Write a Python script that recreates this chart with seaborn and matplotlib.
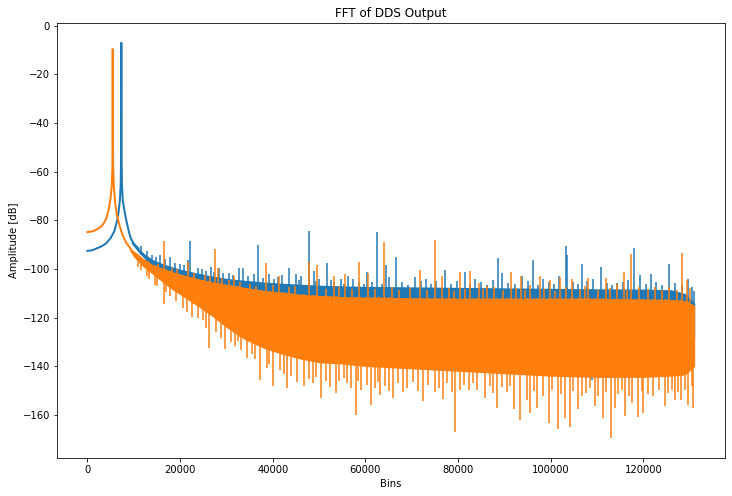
import numpy as np
import matplotlib
matplotlib.use("Agg")
import matplotlib.pyplot as plt
import seaborn as sns

# ----------------------------
# Values (bins, dB)
# ----------------------------
# carrier peaks with their leakage skirts
blue_peak_bins = [0, 1000, 2000, 3000, 4000, 5000, 5800, 6300, 6700, 7000, 7200, 7290, 7324,
                  7360, 7450, 7650, 8000, 8400, 9000, 9400, 10000, 11000]
blue_peak_db = [-92.5, -92.3, -91.5, -90.7, -89.5, -87.3, -84.5, -81, -77, -72, -65, -50, -7,
                -50, -65, -72, -76, -80, -85, -87.5, -89.5, -91.5]

orange_peak_bins = [0, 800, 1500, 2200, 3000, 3600, 4100, 4600, 5000, 5250, 5400, 5440, 5470,
                    5500, 5560, 5700, 6000, 6400, 7000, 7700, 8500, 9300]
orange_peak_db = [-84.8, -84.6, -84.2, -83.5, -82.5, -81, -79, -75.5, -71, -66, -58, -45, -9.6,
                  -45, -58, -66, -73, -78, -82.5, -86.5, -89.5, -91.5]

# noise floor bands (upper / lower edge of the dense trace)
blue_band_bins = [9500, 11000, 12500, 14000, 16000, 18000, 20000, 23000, 26000, 30000, 34000,
                  38000, 42000, 46000, 50000, 55000, 60000, 70000, 80000, 90000, 100000,
                  110000, 120000, 126000, 129000, 131071]
blue_band_top = [-88.5, -91.5, -94, -96, -97.6, -98.9, -100, -101.3, -102.5, -103.8, -104.6,
                 -105.3, -105.8, -106.2, -106.6, -106.9, -107.1, -107.3, -107.5, -107.7, -107.9,
                 -108.1, -108.2, -108.5, -110, -114]
blue_band_bottom = [-89.5, -93, -96, -99, -102, -105, -108, -112, -115, -118, -120, -122, -124,
                    -125, -126, -126, -126, -127, -127, -127, -128, -128, -128, -128, -128, -128]

orange_band_bins = [9000, 10000, 12000, 14000, 16000, 18000, 20000, 22000, 24000, 27000, 30000,
                    34000, 38000, 42000, 46000, 50000, 55000, 60000, 70000, 80000, 90000,
                    100000, 110000, 120000, 126000, 129000, 131071]
orange_band_top = [-91, -92.5, -95.5, -98, -99.5, -100.8, -102, -103, -104, -105.3, -106.3,
                   -107.5, -108.7, -109.5, -110.3, -110.8, -111.3, -111.5, -111.8, -112, -112,
                   -112, -112, -112.3, -112.5, -113, -115]
orange_band_bottom = [-92, -95, -99, -102, -105, -108, -110.5, -113, -115.5, -119.5, -124,
                      -129, -132.5, -135, -137, -138.5, -139, -140, -141, -142, -143, -144,
                      -144.5, -144.5, -144, -143.5, -140]

# spurs sticking out above the floor
blue_spur_bins = [11570, 15730, 17900, 21620, 22100, 23780, 26650, 28440, 30590, 32740, 33500,
                  35970, 36900, 39200, 42090, 43500, 44950, 46030, 47900, 48900, 50000, 51800,
                  52490, 54650, 56200, 57400, 60400, 62600, 64500, 65200, 66500, 70800, 73000,
                  77100, 81400, 83700, 88700, 89500, 93800, 96100, 98400, 101700, 103200,
                  103500, 106700, 109100, 110900, 114200, 117900, 119300, 121600, 125500,
                  129700, 130600]
blue_spur_db = [-90.7, -94.1, -95, -96.2, -88.4, -99.6, -99.2, -99.6, -101.4, -99.6, -99.6,
                -101.9, -90, -101.9, -102.3, -99.6, -101.9, -103, -84.5, -100.7, -104, -97.3,
                -104.4, -104.1, -103, -104, -101, -84.8, -98.2, -103.3, -95.2, -103.4, -104.1,
                -100.3, -101, -104.1, -95.5, -101.4, -102.8, -96.2, -104.1, -102.8, -90.4,
                -94.1, -97.9, -104.1, -99.3, -105.8, -91.4, -102.6, -101.9, -98, -104, -107.4]

# small teeth along the top of the blue floor
blue_tooth_bins = [12800, 13900, 14800, 16700, 18900, 19900, 20800, 24800, 25600, 27400, 29300,
                   31500, 34600, 37800, 40300, 41200, 45600, 49300, 53300, 55400, 58600, 59600,
                   61400, 63500, 67900, 69200, 71900, 74200, 75300, 78500, 79700, 82600, 85000,
                   86200, 87500, 90800, 92300, 95000, 97200, 99600, 100700, 104800, 105800,
                   107900, 112100, 113300, 115500, 116700, 120500, 122800, 124100, 126800,
                   128300, 131000]
blue_tooth_db = [-92.5, -94, -95, -96, -97.5, -98, -98.5, -100, -100.8, -101, -101.8, -102.5,
                 -103, -103.5, -104, -103.3, -104.5, -105, -105.5, -106, -105.2, -106.3, -105.5,
                 -106, -105.3, -106.4, -105, -106, -104.8, -106.2, -105, -106.1, -105.4, -106.5,
                 -104.6, -105.7, -106.3, -105, -106.5, -105.2, -106.2, -105.5, -106.3, -105,
                 -105.8, -106.5, -105.2, -104.3, -106, -105.3, -106.4, -105.7, -106.5, -109]

orange_spur_bins = [16450, 21700, 27500, 28230, 31670, 38500, 41360, 47800, 49600, 53200, 55700,
                    58700, 60600, 64100, 71700, 75100, 76550, 80350, 82600, 84440, 86250, 91500,
                    93570, 95570, 97720, 99880, 102030, 104700, 108130, 111900, 114380, 115800,
                    117300, 128400, 129330]
orange_spur_db = [-88.4, -97.1, -91.8, -99.6, -103, -97.5, -102.8, -97.1, -98.2, -103, -102,
                  -96.9, -101.4, -89, -100.3, -88, -103, -101, -100.7, -105.8, -106.9, -101,
                  -103, -106.4, -103, -104.4, -103.3, -104, -103.7, -103.5, -106.2, -101,
                  -93.7, -93.4, -104.4]

# small teeth along the top of the orange floor
orange_tooth_bins = [13000, 15200, 18200, 19300, 23000, 25300, 26400, 29000, 30600, 33000,
                     35200, 36400, 40000, 43500, 44800, 51500, 54200, 57200, 62000, 65800,
                     67200, 69700, 73400, 78000, 79200, 81600, 85300, 87700, 89600, 92600,
                     94400, 98600, 100900, 103300, 106400, 107300, 110200, 112800, 116500,
                     119000, 120900, 122400, 124000, 125600, 127300, 130100]
orange_tooth_db = [-96.5, -98, -99.5, -100, -101.6, -102.5, -103, -103.8, -104.6, -105.5, -106,
                   -106.8, -106.5, -107.5, -107, -108, -107.5, -108.3, -108, -107.2, -108.5,
                   -107.8, -108.6, -107.6, -108.8, -108, -108.3, -107.5, -108.7, -107.9, -108.5,
                   -108, -108.8, -107.4, -108.2, -107, -108.6, -107.8, -108.5, -107.5, -108.3,
                   -107.3, -108.4, -107.2, -108.5, -107.8]

# deep nulls below the floor
orange_dip_bins = [10850, 12800, 14500, 16450, 22480, 23780, 26290, 29660, 33100, 34550, 37200,
                   38700, 40070, 43170, 45320, 46750, 50490, 53570, 55360, 57900, 59100, 61250,
                   63260, 66000, 68150, 72460, 74960, 76770, 79400, 80500, 84100, 85880, 88400,
                   92100, 93300, 94860, 95600, 97100, 99700, 101500, 103100, 104200, 105800,
                   106800, 109600, 111200, 113000, 113900, 116000, 117500, 118900, 120000,
                   122100, 124600, 126800, 128200, 129700, 130700]
orange_dip_db = [-99, -103, -106.5, -114.3, -119.5, -120.2, -132.5, -132.9, -133.2, -136.6,
                 -145.5, -140.7, -148.2, -148.9, -146.2, -148.2, -153, -151, -144.8, -159.9,
                 -149.6, -155.8, -151.7, -153, -150.3, -154.4, -150.3, -153.4, -167, -149.6,
                 -149.6, -153, -156.9, -157.5, -162, -153.7, -159.2, -156.9, -163.3, -165.6,
                 -161.3, -164.7, -157.5, -152.3, -156.2, -161, -169.5, -157.1, -160.3, -155.1,
                 -160.7, -159, -152.3, -156.2, -153.7, -153.7, -155.8, -157.1]

# shallower notches along the bottom of the orange floor
orange_notch_bins = [11600, 13300, 15100, 17000, 17800, 19200, 20700, 21500, 24900, 25700,
                     27800, 28800, 30900, 31800, 32400, 35600, 36200, 39300, 41600, 42500,
                     44000, 47800, 48600, 49300, 51400, 52300, 54300, 56100, 56900, 58400,
                     60300, 62000, 62700, 64200, 65000, 67100, 69000, 70200, 71300, 73500,
                     75800, 77600, 78600, 81300, 82400, 83300, 86900, 87600, 89500, 90600,
                     91300, 96300, 98300, 100300, 102300, 104900, 107700, 108500, 110300,
                     112000, 114600, 115300, 117000, 119600, 121000, 123300, 125400, 126100,
                     127500, 129000, 130400]
orange_notch_db = [-100.5, -104, -107, -109.5, -111, -113, -116, -117.5, -121, -124, -126,
                   -128.5, -130, -131.5, -129.5, -135, -137, -139, -141.5, -143, -144, -145,
                   -147, -144.5, -146, -148.5, -146, -147, -149, -146, -147.5, -149, -146.5,
                   -148, -150, -147, -149, -146.5, -150, -147.5, -149, -147, -150.5, -147.5,
                   -149.5, -146.8, -148, -151, -148.5, -150.5, -148, -150, -152, -149.5, -151.5,
                   -150, -151, -149, -152, -150.5, -151.5, -149.5, -152, -150, -151.5, -149.5,
                   -151, -149.5, -150.5, -149.5, -148]

blue_dip_bins = [103500, 108900]
blue_dip_db = [-144, -145.5]

# ----------------------------
# Plot
# ----------------------------
colors = sns.color_palette("tab10")

fig = plt.figure(figsize=(732 / 72, 496 / 72), dpi=72)
ax = fig.add_axes([0.0779, 0.0766, 0.9126, 0.877])


def draw_trace(color, z, peak_x, peak_y, band_x, band_top, band_bot, up_x, up_y, down_x, down_y):
    ax.fill_between(band_x, band_bot, band_top, color=color, lw=0, zorder=z)
    up_base = np.interp(up_x, band_x, band_bot)
    ax.vlines(up_x, up_base, up_y, color=color, lw=1.5, zorder=z)
    down_base = np.interp(down_x, band_x, band_top)
    ax.vlines(down_x, down_y, down_base, color=color, lw=1.5, zorder=z)
    sns.lineplot(x=peak_x, y=peak_y, color=color, lw=2, ax=ax, sort=False, estimator=None,
                 zorder=z)


draw_trace(colors[0], 2, blue_peak_bins, blue_peak_db, blue_band_bins, blue_band_top,
           blue_band_bottom, blue_spur_bins + blue_tooth_bins, blue_spur_db + blue_tooth_db,
           blue_dip_bins, blue_dip_db)
draw_trace(colors[1], 3, orange_peak_bins, orange_peak_db, orange_band_bins, orange_band_top,
           orange_band_bottom, orange_spur_bins + orange_tooth_bins,
           orange_spur_db + orange_tooth_db, orange_dip_bins + orange_notch_bins,
           orange_dip_db + orange_notch_db)

ax.set_title("FFT of DDS Output")
ax.set_xlabel("Bins")
ax.set_ylabel("Amplitude [dB]")

fig.savefig("out.png", dpi=72)
